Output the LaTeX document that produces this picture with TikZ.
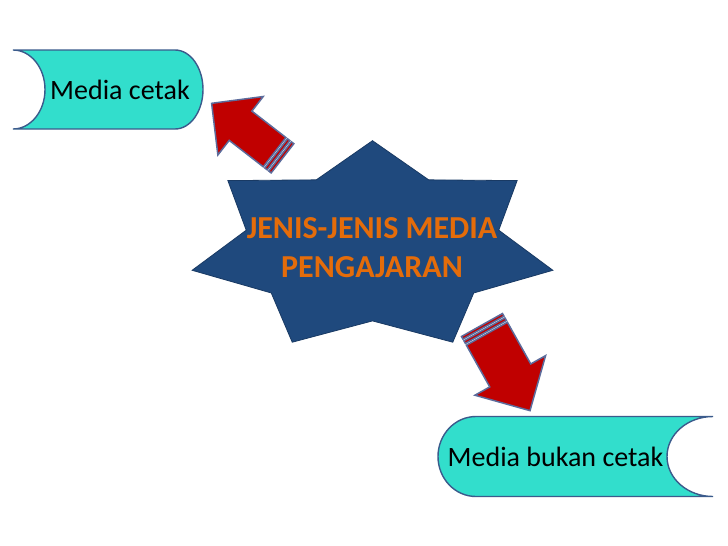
\documentclass[tikz,border=0pt]{standalone}
\usepackage{fontspec}
\setmainfont{Carlito}
\definecolor{turq}{RGB}{50,222,204}
\definecolor{shapeline}{RGB}{59,91,140}
\definecolor{starblue}{RGB}{31,73,125}
\definecolor{starorange}{RGB}{228,108,10}
\definecolor{arrowred}{RGB}{192,0,0}
\definecolor{arrowline}{RGB}{92,108,156}
\tikzset{
  bannerbox/.style={fill=turq,draw=shapeline,line width=1.4pt},
  starshape/.style={fill=starblue,draw=starblue!80!black,line width=0.8pt},
  arrowbody/.style={fill=arrowred,draw=arrowline,line width=1.5pt,line join=miter},
  bannertext/.style={font=\fontsize{28}{32}\selectfont,text=black,inner sep=0pt},
  startext/.style={font=\bfseries\fontsize{32}{39}\selectfont,text=starorange,align=center,inner sep=0pt}
}
\newcommand{\stripedarrow}[6]{%
  \begin{scope}[shift={(#1)},rotate=#2]
    \filldraw[arrowbody] (0,{-#4}) rectangle (3,{#4});
    \filldraw[arrowbody] (5,{-#4}) rectangle (8,{#4});
    \filldraw[arrowbody] (10,{-#4}) -- ({#3-#6},{-#4}) -- ({#3-#6},{-#5}) -- (#3,0)
      -- ({#3-#6},{#5}) -- ({#3-#6},{#4}) -- (10,{#4}) -- cycle;
  \end{scope}}
\begin{document}
\begin{tikzpicture}[x=1pt,y=-1pt]
\useasboundingbox[fill=white] (0,0) rectangle (728,546);

% top banner
\path[bannerbox] (13,50) -- (175,50)
  .. controls (190.5,50) and (203,67.7) .. (203,89.5)
  .. controls (203,111.3) and (190.5,129) .. (175,129)
  -- (13,129)
  .. controls (30.7,129) and (45,111.3) .. (45,89.5)
  .. controls (45,67.7) and (30.7,50) .. (13,50) -- cycle;
\node[bannertext] (cetak) at (120,89.5) {Media cetak};

% bottom banner
\path[bannerbox] (476,416.5) -- (713,416.5)
  .. controls (687.6,416.5) and (667,434.4) .. (667,456.5)
  .. controls (667,478.6) and (687.6,496.5) .. (713,496.5)
  -- (476,496.5)
  .. controls (455,496.5) and (438,478.6) .. (438,456.5)
  .. controls (438,434.4) and (455,416.5) .. (476,416.5) -- cycle;
\node[bannertext] (bukan) at (555.5,456.5) {Media bukan cetak};

% star
\path[starshape] plot[samples at={0,...,13}]
  ({372.5+(1-0.3*mod(\x,2))*185*cos(90-\x*180/7)},
   {246.7-(1-0.3*mod(\x,2))*106*sin(90-\x*180/7)}) -- cycle;
\node[startext] (center) at (372,248) {JENIS-JENIS MEDIA\\PENGAJARAN};

% arrows
\coordinate (t1) at (282.5,158.3);
\coordinate (t2) at (482,325);
\stripedarrow{t1}{142.2}{89.7}{18.5}{37}{36.6}
\stripedarrow{t2}{-60.74}{98.2}{23.5}{40.5}{40.4}
\end{tikzpicture}
\end{document}
